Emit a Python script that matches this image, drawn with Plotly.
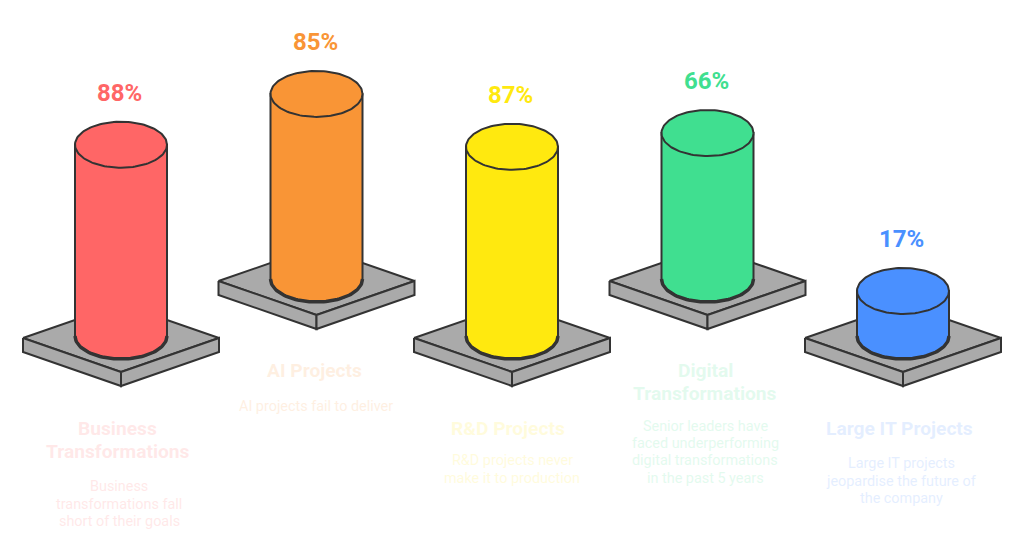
import numpy as np
import plotly.graph_objects as go

categories = ["Business<br>Transformations", "AI Projects", "R&D Projects", "Digital<br>Transformations", "Large IT Projects"]
values = [88, 85, 87, 66, 17]
descriptions = [
    "Business<br>transformations fall<br>short of their goals",
    "AI projects fail to deliver",
    "R&D projects never<br>make it to production",
    "Senior leaders have<br>faced underperforming<br>digital transformations<br>in the past 5 years",
    "Large IT projects<br>jeopardise the future of<br>the company",
]
colors = ["#FF6666", "#F99536", "#FFE90F", "#40DF90", "#4A90FF"]

# layout of the isometric scene (pixel-like scene units)
centers = [121, 316.5, 512, 707.5, 903]
floors = [336, 279, 336, 279, 336]
title_pos = [(117.5, 439.5), (314, 370.5), (507.5, 428.5), (705, 382), (899.5, 428.5)]
desc_pos = [(119, 504), (316, 406), (512, 469.5), (705, 452.3), (901, 481)]
RX, RY = 46, 23
STROKE = "#333333"
GRAY = "#AAAAAA"
TITLE_LH, DESC_LH = 23, 17.3


def height(v):
    return 2.06 * v + 10


def poly(xs, ys, fill, w=2):
    return go.Scatter(x=xs, y=ys, mode="lines", fill="toself", fillcolor=fill,
                      line=dict(color=STROKE, width=w), hoverinfo="skip", showlegend=False)


def text_block(text, pos, lh, size, col, bold):
    lines = text.split("<br>")
    out = []
    for k, ln in enumerate(lines):
        out.append(dict(x=pos[0], y=pos[1] + (k - (len(lines) - 1) / 2) * lh,
                        text=f"<b>{ln}</b>" if bold else ln, showarrow=False,
                        font=dict(family="Roboto", size=size, color=col), opacity=0.14,
                        xanchor="center", yanchor="middle", align="center"))
    return out


fig = go.Figure()
annotations = []
for i, cat in enumerate(categories):
    cx, fy, v, col = centers[i], floors[i], values[i], colors[i]
    # plate
    fig.add_trace(poly([cx - 98, cx, cx + 98, cx, cx - 98], [fy + 2, fy - 32, fy + 2, fy + 36, fy + 2], GRAY))
    fig.add_trace(poly([cx - 98, cx, cx, cx - 98, cx - 98], [fy + 2, fy + 36, fy + 50, fy + 16, fy + 2], GRAY))
    fig.add_trace(poly([cx, cx + 98, cx + 98, cx, cx], [fy + 36, fy + 2, fy + 16, fy + 50, fy + 36], GRAY))
    # cylinder
    top = fy - height(v)
    t = np.linspace(0, np.pi, 61)
    bx = cx + RX * np.cos(t)
    by = fy + RY * np.sin(t)
    fig.add_trace(go.Scatter(
        x=np.concatenate([bx, [cx - RX, cx + RX, cx + RX]]),
        y=np.concatenate([by, [top, top, fy]]),
        mode="lines", fill="toself", fillcolor=col, line=dict(color=STROKE, width=2),
        hoverinfo="skip", showlegend=False))
    fig.add_trace(go.Scatter(x=bx, y=by, mode="lines", line=dict(color=STROKE, width=3.5),
                             hoverinfo="skip", showlegend=False))
    a = np.linspace(0, 2 * np.pi, 121)
    fig.add_trace(poly(cx + RX * np.cos(a), top + RY * np.sin(a), col))
    # texts
    annotations.append(dict(x=cx - 1.5, y=top - RY - 29, text=f"<b>{v}%</b>", showarrow=False,
                            font=dict(family="Roboto", size=24, color=col), xanchor="center", yanchor="middle"))
    annotations += text_block(cat, title_pos[i], TITLE_LH, 19.2, col, True)
    annotations += text_block(descriptions[i], desc_pos[i], DESC_LH, 14.4, col, False)

fig.update_layout(
    width=1024, height=538, margin=dict(l=0, r=0, t=0, b=0),
    paper_bgcolor="white", plot_bgcolor="white", showlegend=False,
    annotations=annotations,
    xaxis=dict(range=[0, 1024], visible=False, fixedrange=True),
    yaxis=dict(range=[538, 0], visible=False, fixedrange=True),
)
fig.write_html("out.html", config=dict(displayModeBar=False),
               post_script="document.body.style.margin='0';document.documentElement.style.overflow='hidden';")
